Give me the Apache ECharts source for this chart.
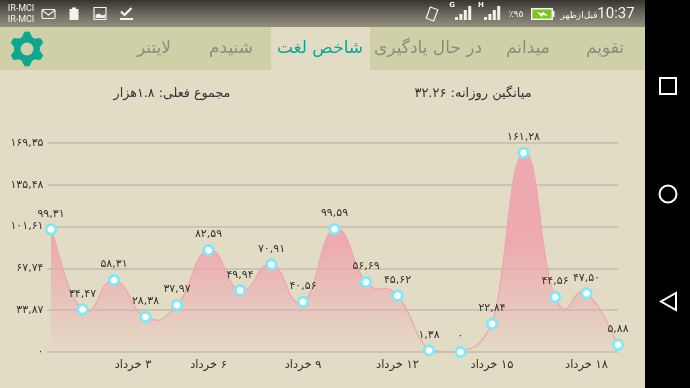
<!DOCTYPE html>
<html><head><meta charset="utf-8">
<style>html,body{margin:0;padding:0;background:#e3dcc5}#c{width:690px;height:388px}</style>
<script src="https://cdn.jsdelivr.net/npm/echarts@6/dist/echarts.min.js"></script>
</head><body><div id="c"></div>
<script>
const days = ['۱','۲','۳','۴','۵','۶','۷','۸','۹','۱۰','۱۱','۱۲','۱۳','۱۴','۱۵','۱۶','۱۷','۱۸','۱۹'];
const values = [99.31,34.47,58.31,28.38,37.97,82.59,49.94,70.91,40.56,99.59,56.69,45.62,1.38,0,22.84,161.28,44.56,47.50,5.88];
const yStep = 33.87;
const yMax = 169.35;
const tabs = ['تقویم','میدانم','در حال یادگیری','شاخص لغت','شنیدم','لایتنر'];
const dailyAverage = 'میانگین روزانه: ۳۲.۲۶';
const totalCurrent = 'مجموع فعلی: ۱.۸هزار';
const RLM = '\u200f';
const FONT = '"DejaVu Sans"';
const CURVE_K = 0.25;
const INK = '#33332f';

const fa = s => String(s).replace(/\d/g, d => '۰۱۲۳۴۵۶۷۸۹'[d]).replace('.', ',');
const num = v => v === 0 ? '۰' : fa(v.toFixed(2));
const categories = days.map(d => RLM + d + ' خرداد');

const T = (x, y, text, o = {}) => ({type:'text', x, y, z:50, silent:true, style:Object.assign({text, fill:INK, font:`13px ${FONT}`, align:'center', verticalAlign:'middle'}, o)});
const R = (x, y, w, h, fill, o = {}) => ({type:'rect', z:o.z || 40, silent:true, shape:{x, y, width:w, height:h}, style:Object.assign({fill}, o.style || {})});
const W = '#f4f2ea';
const stroke = (w, col = W) => ({fill:'none', stroke:col, lineWidth:w});

function gear(cx, cy, R1, R2, teeth) {
  const pts = [], n = teeth * 4;
  for (let i = 0; i < n; i++) {
    const a = (i - 0.5) / n * 2 * Math.PI - Math.PI / 2;
    const r = (i % 4 < 2) ? R1 : R2;
    pts.push([cx + r * Math.cos(a), cy + r * Math.sin(a)]);
  }
  return pts;
}
function signal(x, y, letter) {
  const out = [];
  [3, 6, 10, 14].forEach((h, i) => out.push(R(x + i * 4.4, y - h, 3, h, W)));
  out.push(T(x - 3, y - 15, letter, {font:`bold 7px ${FONT}`, fill:W}));
  return out;
}

const tabXs = [605, 528, 428, 320, 231, 154];
const graphics = [
  {type:'rect', z:40, silent:true, shape:{x:0, y:0, width:645, height:27},
   style:{fill:new echarts.graphic.LinearGradient(0,0,0,1,[{offset:0,color:'#37332e'},{offset:0.45,color:'#66625a'},{offset:1,color:'#94907f'}])}},
  R(0, 27, 645, 43, '#cfd0a8'),
  R(271, 27, 99, 43, '#e3dcc5'),
  R(645, 0, 45, 388, '#000'),
  {type:'rect', z:45, silent:true, shape:{x:660, y:78, width:16, height:16}, style:stroke(2, '#fff')},
  {type:'circle', z:45, silent:true, shape:{cx:668, cy:194, r:8.5}, style:stroke(2, '#fff')},
  {type:'polygon', z:45, silent:true, shape:{points:[[676,293],[676,310],[661,301.5]]}, style:stroke(2, '#fff')},
  {type:'polygon', z:45, silent:true, shape:{points:gear(27, 49, 17, 12.5, 6)}, style:{fill:'#0da78f', stroke:'#0da78f', lineWidth:1, lineJoin:'round'}},
  {type:'circle', z:46, silent:true, shape:{cx:27, cy:49, r:6.5}, style:{fill:'#cfd0a8'}},
  T(21, 9, 'IR-MCI', {font:`9px "Roboto"`, fill:W}),
  T(21, 20, 'IR-MCI', {font:`9px "Roboto"`, fill:W}),
  {type:'rect', z:45, silent:true, shape:{x:42, y:9.5, width:13, height:9, r:1}, style:stroke(1.2)},
  {type:'polyline', z:45, silent:true, shape:{points:[[42,10],[48.5,15],[55,10]]}, style:stroke(1.2)},
  R(69.5, 9, 9, 11, W),
  R(72, 7.5, 4, 3, W),
  {type:'rect', z:45, silent:true, shape:{x:94, y:7.5, width:12, height:12}, style:stroke(1.2)},
  {type:'polygon', z:45, silent:true, shape:{points:[[95.5,18],[95.5,15],[99,13.5],[102,15.5],[105,14.5],[105,18]]}, style:{fill:W}},
  {type:'polyline', z:45, silent:true, shape:{points:[[121,11.5],[124.5,15],[131.5,8]]}, style:stroke(2.2)},
  R(120, 18, 13, 2, W),
  {type:'rect', z:45, silent:true, rotation:-0.35, originX:432, originY:14, shape:{x:428, y:8, width:8, height:12}, style:stroke(1.2)},
  ...signal(455, 20, 'G'),
  ...signal(484, 20, 'H'),
  T(516, 15, '٪۹۵', {font:`9px ${FONT}`, fill:W}),
  R(531, 8, 22, 12, W),
  R(532.5, 9.5, 19, 9, '#7cc31c'),
  R(553, 11, 1.5, 6, W),
  {type:'polygon', z:46, silent:true, shape:{points:[[537,12],[542,13.5],[543,11.5],[548,16],[543,15],[541.5,17]]}, style:{fill:'#fff'}},
  T(579, 16, 'قبل‌ازظهر', {font:`9px ${FONT}`, fill:W}),
  T(616, 14, '10:37', {font:`15px "Roboto"`, fill:W}),
  ...tabs.map((t, i) => T(tabXs[i], 48.5, t, {font:`17px ${FONT}`, fill:i === 3 ? '#0da78f' : '#8b8b80'})),
  T(473, 93.5, dailyAverage),
  T(172, 93.5, totalCurrent, {font:`12.7px ${FONT}`}),
];

function curvePath(pts, base) {
  const p = i => pts[Math.max(0, Math.min(pts.length - 1, i))];
  let d = `M${pts[0][0]} ${pts[0][1]}`;
  for (let i = 1; i < pts.length; i++) {
    const a = p(i - 1), b = p(i), pa = p(i - 2), nb = p(i + 1);
    const c1x = a[0] + (b[0] - pa[0]) * CURVE_K, c1y = Math.min(base, a[1] + (b[1] - pa[1]) * CURVE_K);
    const c2x = b[0] - (nb[0] - a[0]) * CURVE_K, c2y = Math.min(base, b[1] - (nb[1] - a[1]) * CURVE_K);
    d += `C${c1x} ${c1y} ${c2x} ${c2y} ${b[0]} ${b[1]}`;
  }
  return d;
}

const chart = echarts.init(document.getElementById('c'), null, {renderer:'canvas'});
chart.setOption({
  animation:false,
  backgroundColor:'#e3dcc5',
  grid:[
    {left:51, right:72, top:143, bottom:36},
    {left:47.5, right:72, top:143, bottom:36}
  ],
  xAxis:[
    {type:'category', gridIndex:0, data:categories, boundaryGap:false,
     axisLine:{show:false}, axisTick:{show:false}, splitLine:{show:false},
     axisLabel:{interval:i => (i - 2) % 3 === 0, margin:7, hideOverlap:false, fontFamily:FONT, fontSize:11.5, color:INK,
       formatter:(v, i) => i === 2 ? `{s|${v}}` : v,
       rich:{s:{padding:[0,0,0,38], fontFamily:FONT, fontSize:11.5, color:INK}}}},
    {type:'value', gridIndex:1, show:false, min:0, max:1}
  ],
  yAxis:[
    {type:'value', gridIndex:0, min:0, max:yMax, interval:yStep, show:false},
    {type:'value', gridIndex:1, min:0, max:yMax, interval:yStep,
     axisLine:{show:false}, axisTick:{show:false},
     splitLine:{lineStyle:{color:'#c3bdab', width:1.6}},
     axisLabel:{margin:4, fontFamily:FONT, fontSize:11, color:INK, padding:[0,0,3,0], formatter:v => num(v)}}
  ],
  series:[
    {
      type:'custom', xAxisIndex:0, yAxisIndex:0, z:1, silent:true, clip:false,
      data:values.map((v, i) => [i, v]),
      encode:{x:0, y:1},
      renderItem(params, api) {
        if (params.dataIndex !== 0) return null;
        const pts = values.map((v, i) => api.coord([i, v]));
        const base = api.coord([0, 0])[1];
        const line = curvePath(pts, base);
        const last = pts[pts.length - 1];
        return {type:'group', children:[
          {type:'path', shape:{pathData:`${line}L${last[0]} ${base}L${pts[0][0]} ${base}Z`},
           style:{fill:new echarts.graphic.LinearGradient(0,0,0,1,[
             {offset:0, color:'rgba(238,168,176,1)'},
             {offset:0.45, color:'rgba(238,168,176,0.97)'},
             {offset:1, color:'rgba(238,168,176,0.04)'}])}},
          {type:'path', shape:{pathData:line}, style:{fill:'none', stroke:'#eca7af', lineWidth:1.3}}
        ]};
      }
    },
    {
      type:'line', xAxisIndex:0, yAxisIndex:0, z:2, data:values, smooth:true, clip:false,
      symbol:'circle', symbolSize:9.5, showAllSymbol:true,
      lineStyle:{width:0, opacity:0},
      itemStyle:{color:'#ffffff', borderColor:'#7fe8fb', borderWidth:2.8},
      label:{show:true, position:'top', distance:4, fontFamily:FONT, fontSize:11, color:INK, formatter:p => num(p.value)}
    }
  ],
  graphic:graphics
});
</script></body></html>
